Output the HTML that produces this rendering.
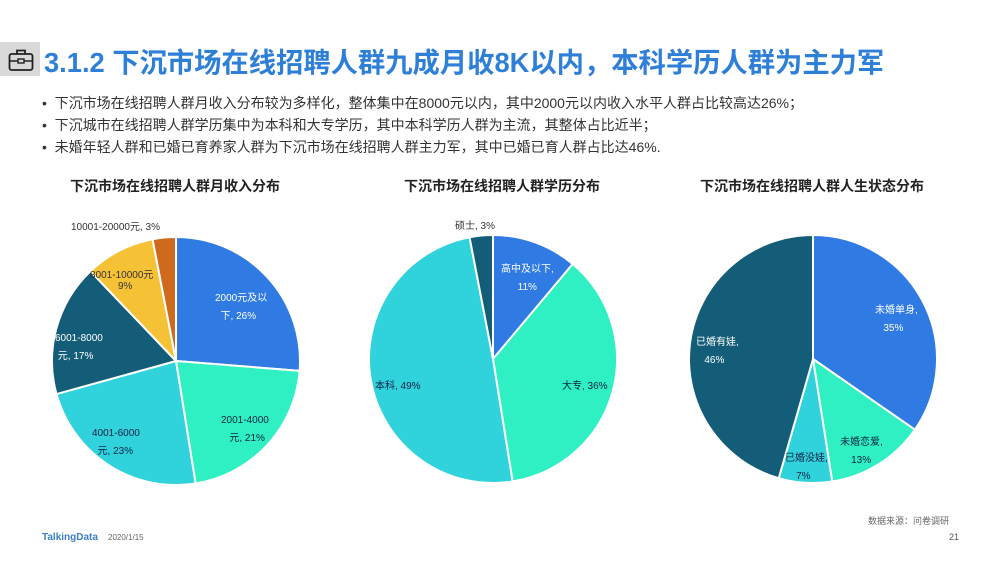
<!DOCTYPE html>
<html><head><meta charset="utf-8"><style>
body{margin:0;width:1000px;height:563px;background:#fff;overflow:hidden;position:relative;font-family:"Liberation Sans","Noto Sans CJK SC",sans-serif;}
.t{position:absolute;white-space:nowrap;}
</style></head><body>
<div style="position:absolute;left:0;top:42px;width:40px;height:34px;background:#d9d9d9"></div>
<svg style="position:absolute;left:8px;top:48px" width="26" height="24" viewBox="0 0 26 24"><rect x="1.5" y="6" width="23" height="16" rx="2" fill="none" stroke="#222" stroke-width="1.8"/><path d="M9 6V2.5h8V6" fill="none" stroke="#222" stroke-width="1.8"/><path d="M1.5 13H10M16 13h8.5" stroke="#222" stroke-width="1.6"/><rect x="10" y="11" width="6" height="4" fill="none" stroke="#222" stroke-width="1.4"/></svg>
<div class="t" style="left:44px;top:40px;font-size:27.3px;font-weight:bold;color:#2d7fd8">3.1.2 下沉市场在线招聘人群九成月收8K以内，本科学历人群为主力军</div>
<div class="t" style="left:42px;top:92px;font-size:14px;color:#333;line-height:22px">•&nbsp;&nbsp;下沉市场在线招聘人群月收入分布较为多样化，整体集中在8000元以内，其中2000元以内收入水平人群占比较高达26%；<br>•&nbsp;&nbsp;下沉城市在线招聘人群学历集中为本科和大专学历，其中本科学历人群为主流，其整体占比近半；<br>•&nbsp;&nbsp;未婚年轻人群和已婚已育养家人群为下沉市场在线招聘人群主力军，其中已婚已育人群占比达46%.</div>
<div class="t" style="left:70px;top:176px;font-size:14px;font-weight:bold;color:#222">下沉市场在线招聘人群月收入分布</div>
<div class="t" style="left:404px;top:176px;font-size:14px;font-weight:bold;color:#222">下沉市场在线招聘人群学历分布</div>
<div class="t" style="left:700px;top:176px;font-size:14px;font-weight:bold;color:#222">下沉市场在线招聘人群人生状态分布</div>
<svg id="s" style="position:absolute;left:0;top:0" width="1000" height="563"></svg>
<div style="position:absolute;left:0;top:0;width:1000px;height:563px;font-size:10px;color:#333">
<div class="t" style="left:71px;top:218px">10001-20000元, 3%</div>
<div class="t" style="left:90px;top:266px">8001-10000元<br><span style="margin-left:28px">9%</span></div>
<div class="t" style="left:55px;top:330px;color:#fff;line-height:18px">6001-8000<br>&nbsp;元, 17%</div>
<div class="t" style="left:92px;top:425px;color:#124;line-height:18px">4001-6000<br>&nbsp;&nbsp;元, 23%</div>
<div class="t" style="left:221px;top:412px;color:#124;line-height:18px">2001-4000<br>&nbsp;&nbsp;&nbsp;元, 21%</div>
<div class="t" style="left:215px;top:290px;color:#fff;line-height:18px">2000元及以<br>&nbsp;&nbsp;下, 26%</div>
<div class="t" style="left:455px;top:217px">硕士, 3%</div>
<div class="t" style="left:501px;top:261px;color:#fff;line-height:18px">高中及以下,<br>&nbsp;&nbsp;&nbsp;&nbsp;&nbsp;&nbsp;11%</div>
<div class="t" style="left:562px;top:377px;color:#124">大专, 36%</div>
<div class="t" style="left:375px;top:377px;color:#124">本科, 49%</div>
<div class="t" style="left:875px;top:302px;color:#fff;line-height:18px">未婚单身,<br>&nbsp;&nbsp;&nbsp;35%</div>
<div class="t" style="left:840px;top:434px;color:#124;line-height:18px">未婚恋爱,<br>&nbsp;&nbsp;&nbsp;&nbsp;13%</div>
<div class="t" style="left:785px;top:450px;color:#124;line-height:18px">已婚没娃,<br>&nbsp;&nbsp;&nbsp;&nbsp;7%</div>
<div class="t" style="left:696px;top:334px;color:#fff;line-height:18px">已婚有娃,<br>&nbsp;&nbsp;&nbsp;46%</div>
</div>
<div class="t" style="left:868px;top:514px;font-size:9px;color:#666">数据来源：问卷调研</div>
<div class="t" style="left:42px;top:532px;font-size:10px;font-weight:bold;color:#3a7fc8">TalkingData</div>
<div class="t" style="left:108px;top:533px;font-size:8px;color:#666">2020/1/15</div>
<div class="t" style="left:949px;top:532px;font-size:9px;color:#555">21</div>
<script>
var B='#2f7be3',M='#2ef0c2',C='#30d2dc',D='#135d78',Y='#f6c235',O='#cf6a1c';
var pies=[[176,361,124,[[26,B],[21,M],[23,C],[17,D],[9,Y],[3,O]]],
[493,359,124,[[11,B],[36,M],[49,C],[3,D]]],
[813,359,124,[[35,B],[13,M],[7,C],[46,D]]]];
var h='';
pies.forEach(function(p){var cx=p[0],cy=p[1],r=p[2],d=p[3],t=0,s=0;d.forEach(function(x){t+=x[0]});
d.forEach(function(x){var a0=s/t*2*Math.PI,a1=(s+x[0])/t*2*Math.PI;s+=x[0];
var x0=cx+r*Math.sin(a0),y0=cy-r*Math.cos(a0),x1=cx+r*Math.sin(a1),y1=cy-r*Math.cos(a1);
h+='<path d="M'+cx+' '+cy+'L'+x0+' '+y0+'A'+r+' '+r+' 0 '+(a1-a0>Math.PI?1:0)+' 1 '+x1+' '+y1+'Z" fill="'+x[1]+'" stroke="#fff" stroke-width="2"/>';});});
document.getElementById('s').innerHTML=h;
</script>
</body></html>
